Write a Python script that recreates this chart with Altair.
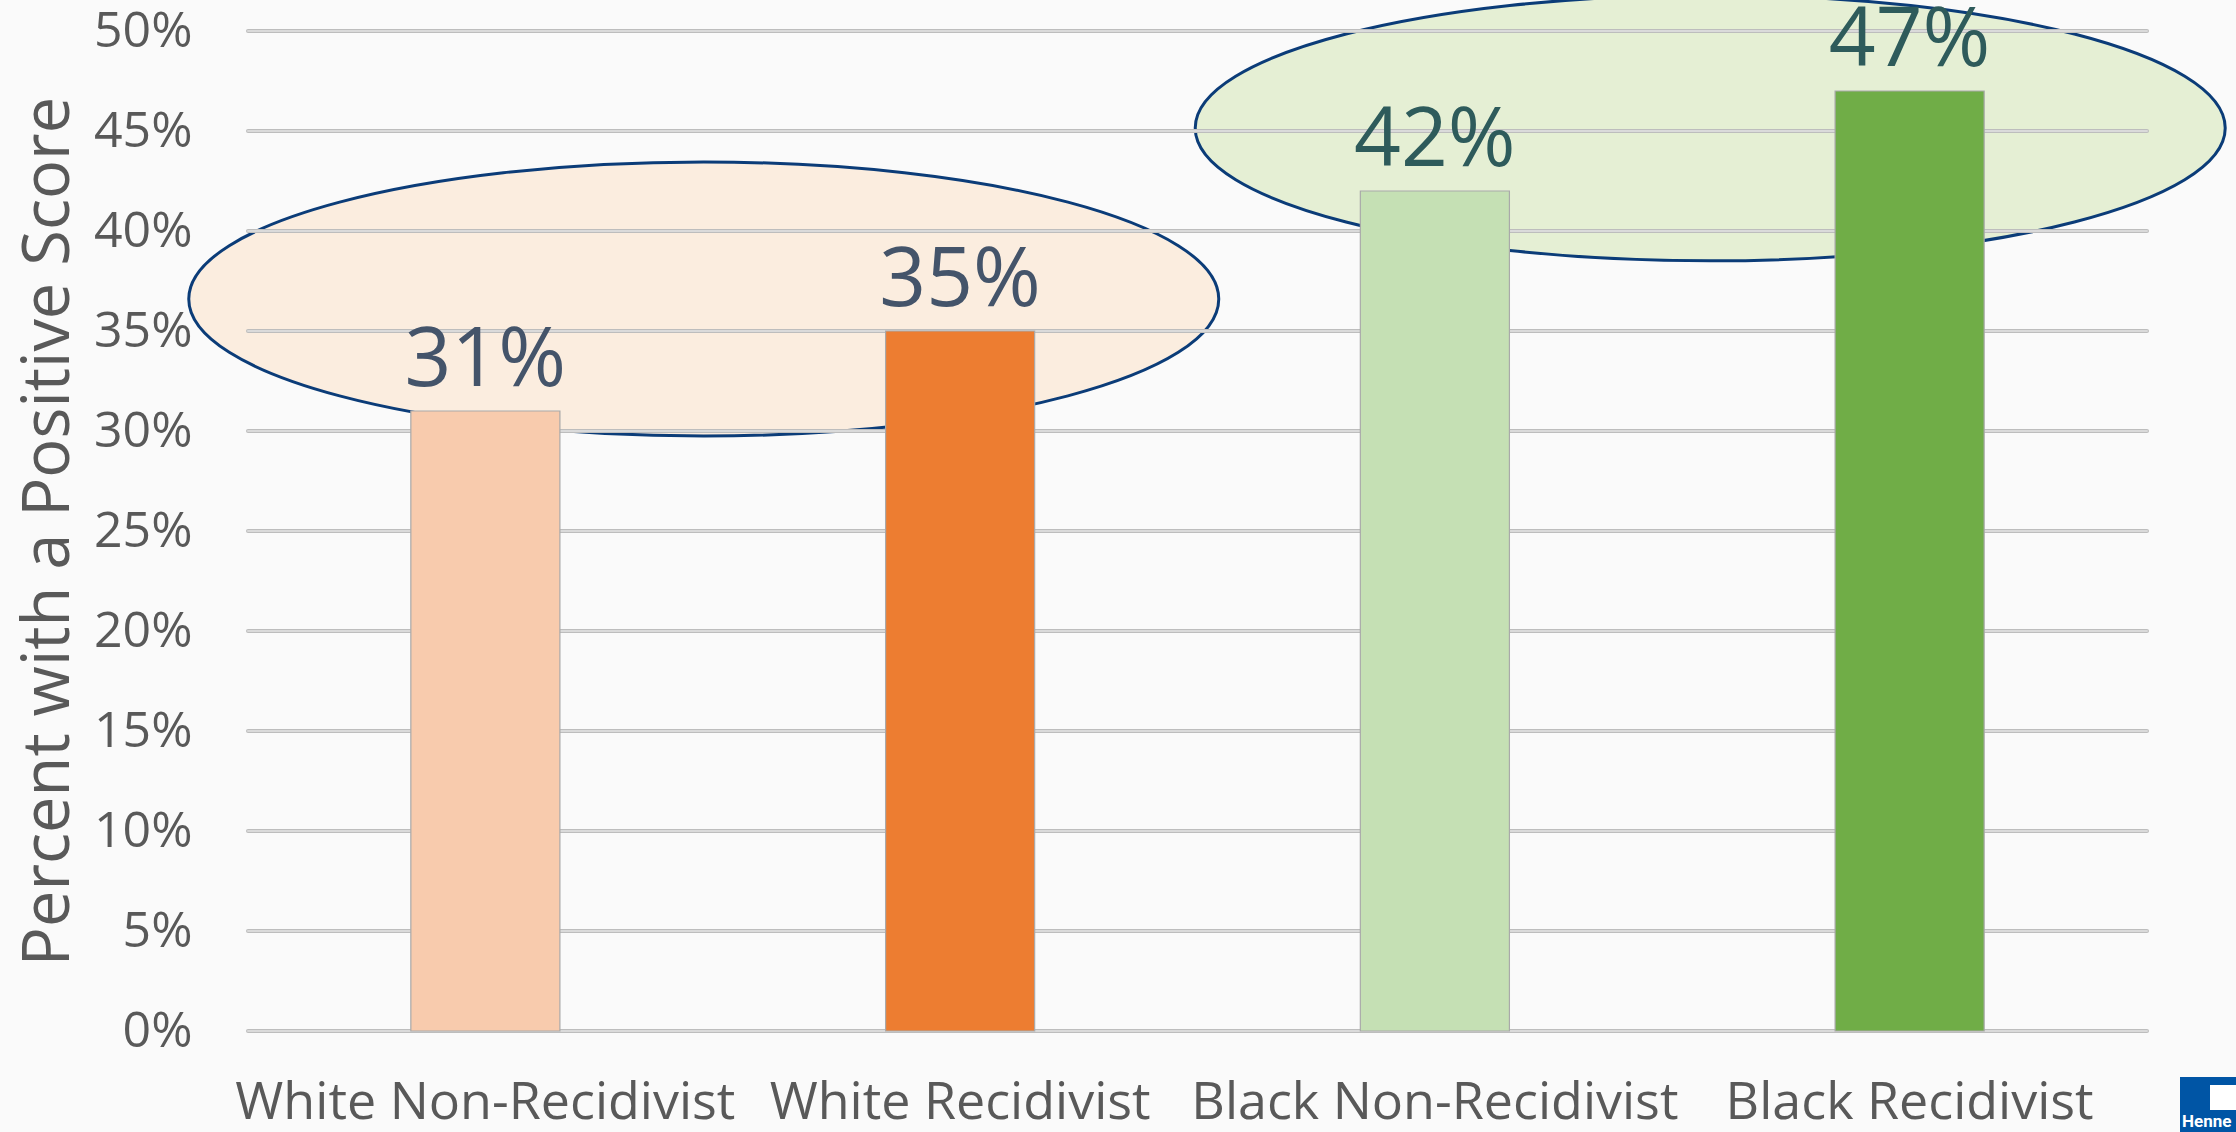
import altair as alt
import pandas as pd

# --- chart values -----------------------------------------------------------
categories = ["White Non-Recidivist", "White Recidivist",
              "Black Non-Recidivist", "Black Recidivist"]
percent_positive = [31, 35, 42, 47]
bar_colors = ["#F8CBAD", "#ED7D31", "#C5E0B4", "#70AD47"]
label_colors = ["#44546A", "#44546A", "#2E5B5B", "#2E5B5B"]
y_ticks = list(range(0, 55, 5))

# highlight ellipses grouping the two races (centre: band units on x, percent on y)
ellipse_groups = ["White", "Black"]
ellipse_cx = [0.96, 3.08]
ellipse_cy = [36.6, 45.15]
ellipse_fill = ["#FBEDDF", "#E5EFD4"]
ellipse_aspect = [0.266, 0.258]

FONT = "Open Sans"
TEXT_GREY = "#595959"
W, H = 1899, 1000

bars_df = pd.DataFrame({
    "category": categories,
    "pct": percent_positive,
    "label": [f"{v}%" for v in percent_positive],
})
grid_df = pd.DataFrame({"tick": y_ticks})

y_scale = alt.Scale(domain=[0, 50], nice=False, zero=True)
x_band = alt.Scale(domain=categories, paddingInner=0.686, paddingOuter=0.343)


def ellipse_path(b):
    """Unit ellipse (x radius 1, y radius b) drawn with four cubic curves."""
    k = 0.5523
    return (f"M-1,0 C-1,{-k*b:.4f} {-k:.4f},{-b:.4f} 0,{-b:.4f} "
            f"C{k:.4f},{-b:.4f} 1,{-k*b:.4f} 1,0 "
            f"C1,{k*b:.4f} {k:.4f},{b:.4f} 0,{b:.4f} "
            f"C{-k:.4f},{b:.4f} -1,{k*b:.4f} -1,0 Z")


ellipse_layers = []
for name, cx, cy, fill, b in zip(ellipse_groups, ellipse_cx, ellipse_cy,
                                 ellipse_fill, ellipse_aspect):
    edf = pd.DataFrame({"group": [name], "cx": [cx], "cy": [cy]})
    ellipse_layers.append(
        alt.Chart(edf).mark_point(
            shape=ellipse_path(b), size=1030 ** 2, filled=True,
            fill=fill, stroke="#0B3C78", strokeWidth=3,
            opacity=1, fillOpacity=1, strokeOpacity=1,
        ).encode(
            x=alt.X("cx:Q", scale=alt.Scale(domain=[0, 4], nice=False, zero=False), axis=None),
            y=alt.Y("cy:Q", scale=y_scale, axis=None),
        )
    )

# gridlines sit above the ellipses but beneath the bars
grid_outer = alt.Chart(grid_df).mark_rule(
    color="#BDBDBD", strokeWidth=4, strokeCap="round"
).encode(y=alt.Y("tick:Q", scale=y_scale, axis=None))
grid_inner = alt.Chart(grid_df).mark_rule(
    color="#DADADA", strokeWidth=2, strokeCap="round"
).encode(y=alt.Y("tick:Q", scale=y_scale, axis=None))

bars = alt.Chart(bars_df).mark_bar(stroke="#A9A9A9", strokeWidth=1.2).encode(
    x=alt.X(
        "category:N", sort=categories, scale=x_band, title=None,
        axis=alt.Axis(
            labelFont=FONT, labelFontSize=52, labelColor=TEXT_GREY,
            labelAngle=0, labelBaseline="alphabetic", labelPadding=87,
            labelLimit=1000, labelOverlap=False,
            ticks=False, tickSize=0, domain=False, grid=False,
        ),
    ),
    y=alt.Y(
        "pct:Q", scale=y_scale, title="Percent with a Positive Score",
        axis=alt.Axis(
            values=y_ticks, labelExpr="datum.value + '%'",
            labelFont=FONT, labelFontSize=50, labelColor=TEXT_GREY,
            labelPadding=56, labelBaseline="middle",
            ticks=False, tickSize=0, domain=False, grid=False,
            titleFont=FONT, titleFontSize=65, titleFontWeight="normal",
            titleColor=TEXT_GREY, titleAngle=270, titleAlign="center",
            titleBaseline="alphabetic", titleX=-180, titleY=H / 2,
        ),
    ),
    color=alt.Color("category:N",
                    scale=alt.Scale(domain=categories, range=bar_colors),
                    legend=None),
)

labels = alt.Chart(bars_df).mark_text(
    font=FONT, fontSize=82, baseline="alphabetic", align="center", dy=-25
).encode(
    x=alt.X("category:N", sort=categories, scale=x_band, axis=None),
    y=alt.Y("pct:Q", scale=y_scale, axis=None),
    text="label:N",
    color=alt.Color("category:N",
                    scale=alt.Scale(domain=categories, range=label_colors),
                    legend=None),
)

# corner logo badge
one = pd.DataFrame({"k": [0]})
logo_box = alt.Chart(one).mark_rect(color="#0055A5").encode(
    x=alt.value(W + 33), x2=alt.value(W + 89),
    y=alt.value(H + 46), y2=alt.value(H + 101),
)
logo_mark = alt.Chart(one).mark_rect(color="#FFFFFF").encode(
    x=alt.value(W + 63), x2=alt.value(W + 89),
    y=alt.value(H + 54), y2=alt.value(H + 79),
)
logo_text = alt.Chart(one).mark_text(
    text="Henne", font="Roboto", fontWeight="bold", fontSize=17,
    color="#FFFFFF", align="left", baseline="alphabetic",
).encode(x=alt.value(W + 35), y=alt.value(H + 96))

chart = alt.layer(
    *ellipse_layers, grid_outer, grid_inner, bars, labels,
    logo_box, logo_mark, logo_text,
).resolve_scale(
    x="independent", color="independent"
).resolve_axis(
    y="independent"
).properties(
    width=W, height=H,
    autosize=alt.AutoSizeParams(type="none"),
    padding={"left": 248, "top": 31, "right": 89, "bottom": 101},
    background="#FAFAFA",
).configure_view(stroke=None)

chart.save("out.html", embed_options={"renderer": "svg", "actions": False})
